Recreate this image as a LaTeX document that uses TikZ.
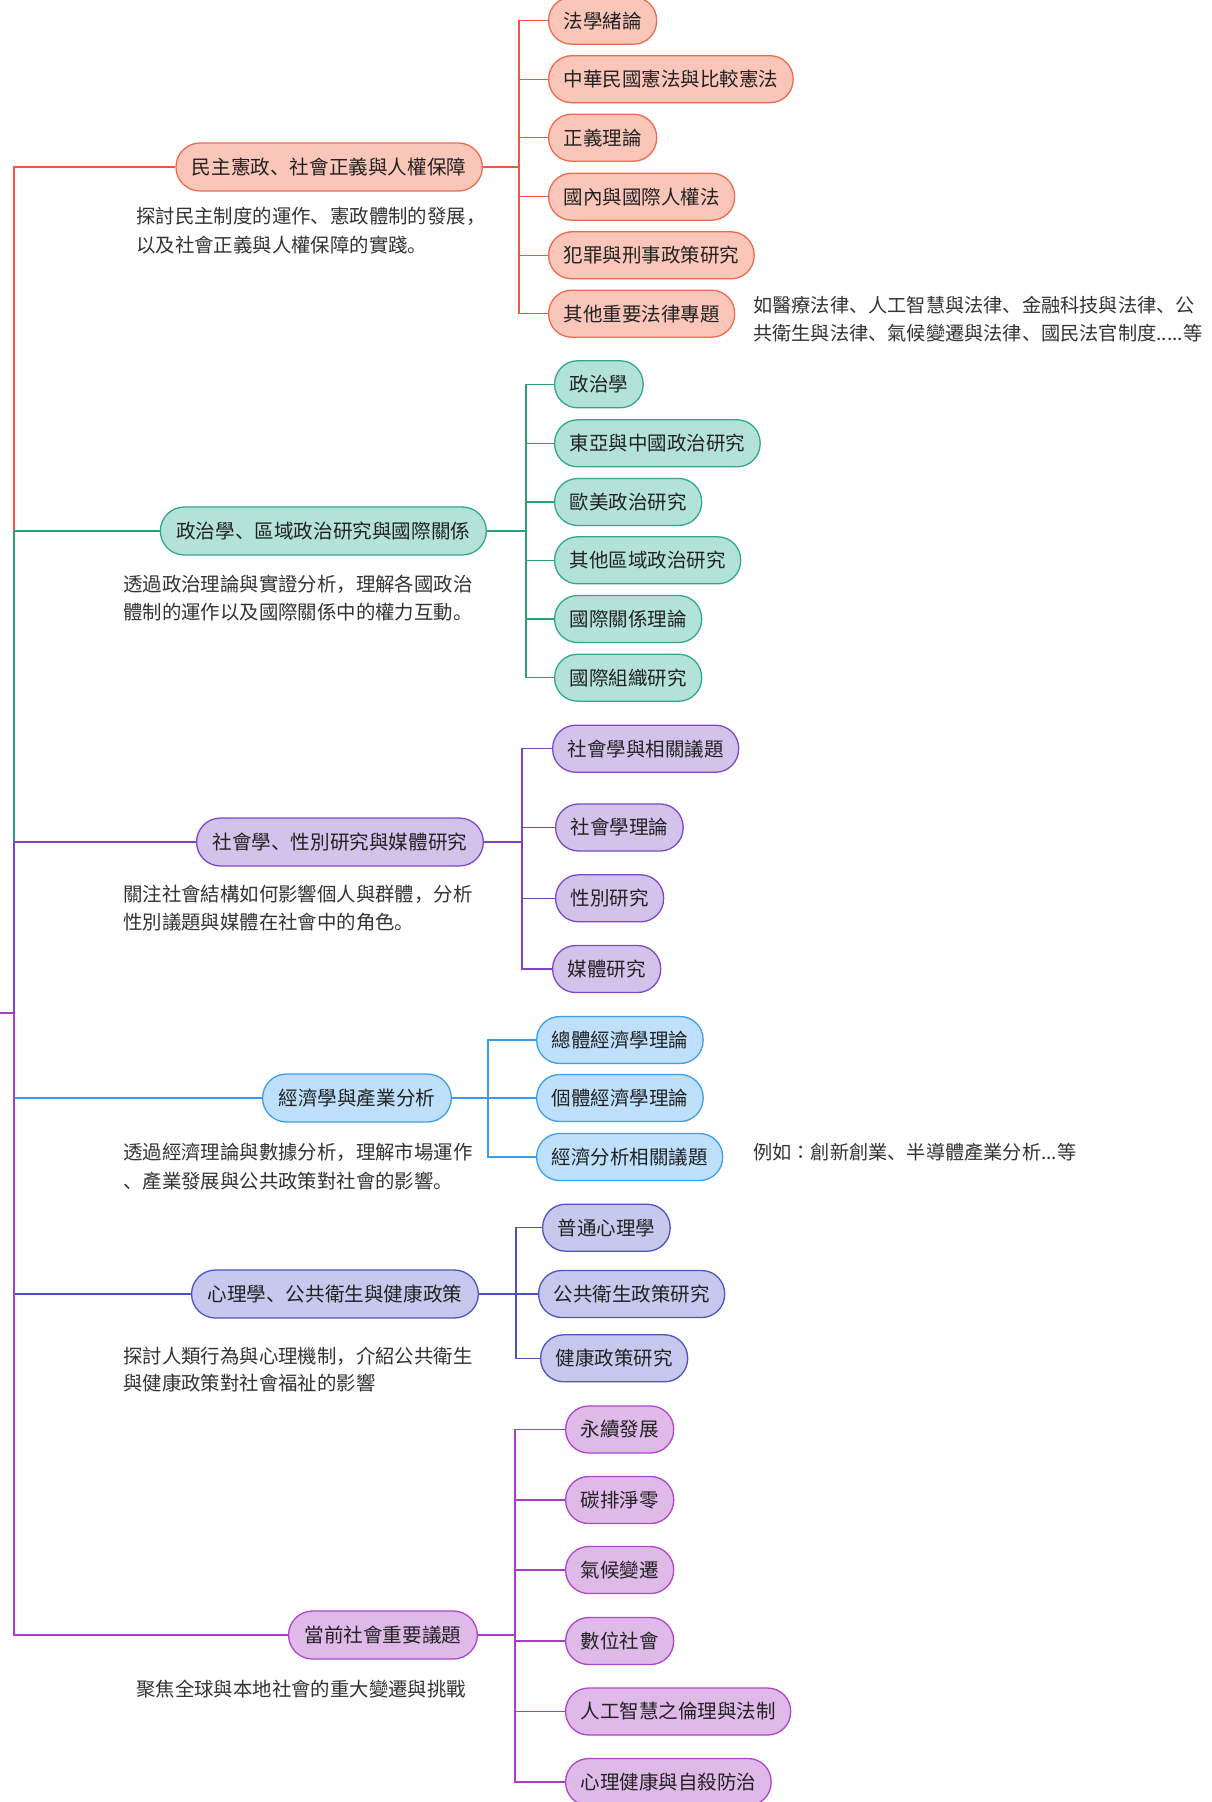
\documentclass[tikz,border=0pt]{standalone}
\usepackage{fontspec}
\setmainfont{Noto Sans CJK SC}
\newfontfamily\jpfont{Noto Sans CJK JP}
\definecolor{txt}{HTML}{222222}
\definecolor{desctxt}{HTML}{333333}
\definecolor{fA}{HTML}{FAC6BA}\definecolor{bA}{HTML}{F06A50}\definecolor{lA}{HTML}{F0583D}
\definecolor{fB}{HTML}{B3E3D8}\definecolor{bB}{HTML}{2FA98B}\definecolor{lB}{HTML}{27A07F}
\definecolor{fC}{HTML}{D3C3EB}\definecolor{bC}{HTML}{8048C8}\definecolor{lC}{HTML}{7F42C6}
\definecolor{fD}{HTML}{BEE0FB}\definecolor{bD}{HTML}{3C9EF0}\definecolor{lD}{HTML}{3A9CF0}
\definecolor{fE}{HTML}{C6C9ED}\definecolor{bE}{HTML}{4E54C2}\definecolor{lE}{HTML}{4B51C0}
\definecolor{fF}{HTML}{DFB9E8}\definecolor{bF}{HTML}{B044CC}\definecolor{lF}{HTML}{A83DC6}
\begin{document}
\begin{tikzpicture}[x=1pt,y=-1pt,
  pill/.style={rectangle, rounded corners=23pt, minimum height=47pt, inner xsep=15pt, inner ysep=0pt,
    line width=1.3pt, text=txt, font=\fontsize{19.5}{23}\selectfont, text height=15.6pt, text depth=0.8pt},
  mainnode/.style={pill, inner xsep=16pt, minimum height=48pt, rounded corners=24pt,
    font=\fontsize{19.6}{23}\selectfont, anchor=east},
  subnode/.style={pill, anchor=west},
  desc/.style={anchor=base west, inner sep=0pt, text=desctxt, font=\fontsize{19.4}{23}\selectfont},
  note/.style={desc, font=\fontsize{19.2}{23}\selectfont},
  brA/.style={draw=bA, fill=fA}, brB/.style={draw=bB, fill=fB}, brC/.style={draw=bC, fill=fC},
  brD/.style={draw=bD, fill=fD}, brE/.style={draw=bE, fill=fE}, brF/.style={draw=bF, fill=fF},
  rootline/.style={line width=1.5pt},
  trunk/.style={line width=2pt},
  twig/.style={line width=1.3pt}]
\useasboundingbox (0,0) rectangle (1211,1802);

% ---------- main nodes ----------
\node[mainnode,brA] (m1) at (483,167) {民主憲政、社會正義與人權保障};
\node[mainnode,brB] (m2) at (487,531) {政治學、區域政治研究與國際關係};
\node[mainnode,brC] (m3) at (484,842) {社會學、性別研究與媒體研究};
\node[mainnode,brD] (m4) at (452,1098) {經濟學與產業分析};
\node[mainnode,brE] (m5) at (479,1294) {心理學、公共衛生與健康政策};
\node[mainnode,brF] (m6) at (478,1635) {當前社會重要議題};

% ---------- root connectors ----------
\coordinate (r0) at (0,1013);
\coordinate (r) at (14,1013);
\draw[rootline,lA] (r) |- (m1.west);
\draw[rootline,lB] (r) |- (m2.west);
\draw[rootline,lC] (r) |- (m3.west);
\draw[rootline,lD] (r) |- (m4.west);
\draw[rootline,lE] (r) |- (m5.west);
\draw[rootline,lF] (r) |- (m6.west);
\draw[rootline,lF] (r0) -- (r);

% ---------- branch 1 ----------
\node[subnode,brA] (s11) at (548,20.7) {法學緒論};
\node[subnode,brA] (s12) at (548,79.2) {中華民國憲法與比較憲法};
\node[subnode,brA] (s13) at (548,137.7) {正義理論};
\node[subnode,brA] (s14) at (548,196.7) {國內與國際人權法};
\node[subnode,brA] (s15) at (548,255.3) {犯罪與刑事政策研究};
\node[subnode,brA] (s16) at (548,313.7) {其他重要法律專題};
\coordinate (j1) at (519,167);
\draw[trunk,lA] (m1.east) -- (j1);
\foreach \s in {s11,s12,s13,s14,s15,s16} \draw[twig,lA] (j1) |- (\s.west);
\node[desc] (d1a) at (136,223.3) {探討民主制度的運作、憲政體制的發展，};
\node[desc] (d1b) at (136,252.3) {以及社會正義與人權保障的實踐。};
\node[note] (n1a) at (753,312.3) {如醫療法律、人工智慧與法律、金融科技與法律、公};
\node[note] (n1b) at (753,340.8) {共衛生與法律、氣候變遷與法律、國民法官制度.....等};

% ---------- branch 2 ----------
\node[subnode,brB] (s21) at (554,384.3) {政治學};
\node[subnode,brB] (s22) at (554,443.3) {東亞與中國政治研究};
\node[subnode,brB] (s23) at (554,502) {歐美政治研究};
\node[subnode,brB] (s24) at (554,560.3) {其他區域政治研究};
\node[subnode,brB] (s25) at (554,619) {國際關係理論};
\node[subnode,brB] (s26) at (554,677.7) {國際組織研究};
\coordinate (j2) at (526,531);
\draw[trunk,lB] (m2.east) -- (j2);
\foreach \s in {s21,s22,s23,s24,s25,s26} \draw[twig,lB] (j2) |- (\s.west);
\node[desc] (d2a) at (123,591.3) {透過政治理論與實證分析，理解各國政治};
\node[desc] (d2b) at (123,619.8) {體制的運作以及國際關係中的權力互動。};

% ---------- branch 3 ----------
\node[subnode,brC] (s31) at (552,748.7) {社會學與相關議題};
\node[subnode,brC] (s32) at (555,827.5) {社會學理論};
\node[subnode,brC] (s33) at (555,898.3) {性別研究};
\node[subnode,brC] (s34) at (552,969) {媒體研究};
\coordinate (j3) at (522,842);
\draw[trunk,lC] (m3.east) -- (j3);
\foreach \s in {s31,s32,s33,s34} \draw[twig,lC] (j3) |- (\s.west);
\node[desc] (d3a) at (123,901.3) {關注社會結構如何影響個人與群體，分析};
\node[desc] (d3b) at (123,929) {性別議題與媒體在社會中的角色。};

% ---------- branch 4 ----------
\node[subnode,brD] (s41) at (536,1040) {總體經濟學理論};
\node[subnode,brD] (s42) at (536,1098) {個體經濟學理論};
\node[subnode,brD] (s43) at (536,1157) {經濟分析相關議題};
\coordinate (j4) at (488,1098);
\draw[trunk,lD] (m4.east) -- (j4);
\foreach \s in {s41,s42,s43} \draw[twig,lD] (j4) |- (\s.west);
\node[desc] (d4a) at (123,1159.3) {透過經濟理論與數據分析，理解市場運作};
\node[desc] (d4b) at (123,1188.6) {、產業發展與公共政策對社會的影響。};
\node[note] (n4) at (753,1159.3) {例如{\jpfont ：}創新創業、半導體產業分析...等};

% ---------- branch 5 ----------
\node[subnode,brE] (s51) at (542,1227.7) {普通心理學};
\node[subnode,brE] (s52) at (538,1294) {公共衛生政策研究};
\node[subnode,brE] (s53) at (540,1358.3) {健康政策研究};
\coordinate (j5) at (516,1294);
\draw[trunk,lE] (m5.east) -- (j5);
\foreach \s in {s51,s52,s53} \draw[twig,lE] (j5) |- (\s.west);
\node[desc] (d5a) at (123,1363.3) {探討人類行為與心理機制，介紹公共衛生};
\node[desc] (d5b) at (123,1390.8) {與健康政策對社會福祉的影響};

% ---------- branch 6 ----------
\node[subnode,brF] (s61) at (565,1429.5) {永續發展};
\node[subnode,brF] (s62) at (565,1500) {碳排淨零};
\node[subnode,brF] (s63) at (565,1570) {氣候變遷};
\node[subnode,brF] (s64) at (565,1641) {數位社會};
\node[subnode,brF] (s65) at (565,1711.5) {人工智慧之倫理與法制};
\node[subnode,brF] (s66) at (565,1782) {心理健康與自殺防治};
\coordinate (j6) at (515,1635);
\draw[trunk,lF] (m6.east) -- (j6);
\foreach \s in {s61,s62,s63,s64,s65,s66} \draw[twig,lF] (j6) |- (\s.west);
\node[desc] (d6a) at (136,1696.3) {聚焦全球與本地社會的重大變遷與挑戰};
\end{tikzpicture}
\end{document}
